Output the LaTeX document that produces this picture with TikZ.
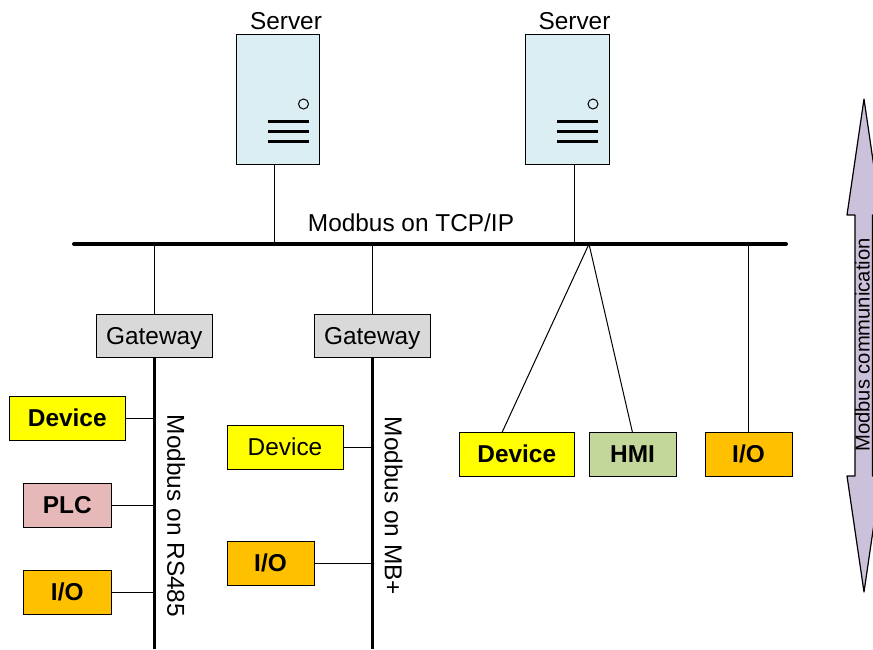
\documentclass[tikz,border=0pt]{standalone}
\usepackage{fontspec}
\setmainfont{Liberation Sans}
\definecolor{srv}{HTML}{DAEEF3}
\definecolor{gw}{HTML}{D9D9D9}
\definecolor{dev}{HTML}{FFFF00}
\definecolor{plc}{HTML}{E6B8B7}
\definecolor{io}{HTML}{FFC000}
\definecolor{hmi}{HTML}{C4D79B}
\definecolor{arr}{HTML}{CCC1DA}
\tikzset{
  x=1pt,y=-1pt,
  box/.style={draw=black,line width=1pt,inner sep=0pt,outer sep=0pt,anchor=north west,font=\fontsize{24.4}{24}\selectfont},
  boldbox/.style={box,font=\fontsize{24.4}{24}\selectfont\bfseries},
  label/.style={inner sep=0pt,font=\fontsize{24.4}{24}\selectfont},
  wire/.style={line width=1pt},
  busline/.style={line width=4pt,line cap=round},
  trunk/.style={line width=3pt},
  bar/.style={line width=2.8pt}
}
\newcommand{\srvbox}[3]{%
  \node[box,fill=srv,minimum width=83.5pt,minimum height=130pt] (#1) at (#2,#3) {};
  \draw[line width=1pt] (#2+67.5,#3+70) circle (5);
  \draw[bar] (#2+31.5,#3+87.5) -- (#2+72.5,#3+87.5);
  \draw[bar] (#2+31.5,#3+97.5) -- (#2+72.5,#3+97.5);
  \draw[bar] (#2+31.5,#3+107.5) -- (#2+72.5,#3+107.5);
}
\begin{document}
\begin{tikzpicture}
\useasboundingbox (0,0) rectangle (873,649);
% double arrow
\begin{scope}
\clip (0,0) rectangle (873,649);
\draw[line width=1.2pt,fill=arr,line join=round] (864,99) -- (881,215) -- (872.5,215) -- (872.5,476) -- (881,476) -- (864,592) -- (847,476) -- (855,476) -- (855,215) -- (847,215) -- cycle;
\end{scope}
\node[inner sep=0pt,rotate=90,font=\fontsize{20.2}{20}\selectfont] (arrlabel) at (862.5,345) {Modbus communication};
% servers
\srvbox{s1}{236}{34}
\srvbox{s2}{525.5}{34}
\node[label] (s1t) at (286,21) {Server};
\node[label] (s2t) at (574.5,21) {Server};
% bus
\coordinate (busl) at (74,244);
\coordinate (busr) at (786,244);
\coordinate (b1) at (274,244);
\coordinate (b2) at (574.5,244);
\coordinate (b3) at (154.5,244);
\coordinate (b4) at (372.5,244);
\coordinate (b5) at (589,244);
\coordinate (b6) at (748,244);
\node[label] (bust) at (411,222.5) {Modbus on TCP/IP};
% gateways
\node[box,fill=gw,minimum width=116.5pt,minimum height=43pt,text depth=0pt] (g1) at (96,314) {Gateway};
\node[box,fill=gw,minimum width=116.5pt,minimum height=43pt,text depth=0pt] (g2) at (314,314) {Gateway};
% left column
\node[boldbox,fill=dev,minimum width=116.5pt,minimum height=44pt] (d1) at (9,396) {Device};
\node[boldbox,fill=plc,minimum width=87.5pt,minimum height=44pt] (plc) at (23.5,483) {PLC};
\node[boldbox,fill=io,minimum width=87.5pt,minimum height=44pt] (io1) at (23.5,570) {I/O};
% middle column
\node[box,fill=dev,minimum width=116pt,minimum height=44pt] (d2) at (227,425) {Device};
\node[boldbox,fill=io,minimum width=87pt,minimum height=44pt] (io2) at (227,541) {I/O};
% right group
\node[boldbox,fill=dev,minimum width=115.5pt,minimum height=43.5pt] (d3) at (459,432.5) {Device};
\node[boldbox,fill=hmi,minimum width=87pt,minimum height=43.5pt] (hmi) at (589,432.5) {HMI};
\node[boldbox,fill=io,minimum width=87pt,minimum height=43.5pt] (io3) at (705,432.5) {I/O};
% trunks
\coordinate (e1) at (154.5,649);
\coordinate (e2) at (372.5,649);
\draw[trunk] (b3 |- g1.south) -- (e1);
\draw[trunk] (b4 |- g2.south) -- (e2);
\node[label,rotate=-90] (t1) at (176,516) {Modbus on RS485};
\node[label,rotate=-90] (t2) at (393.5,506) {Modbus on MB+};
% wires
\draw[wire] (b1 |- s1.south) -- (b1);
\draw[wire] (b2 |- s2.south) -- (b2);
\draw[wire] (b3) -- (b3 |- g1.north);
\draw[wire] (b4) -- (b4 |- g2.north);
\draw[wire] (b5) -- (502,432.5) coordinate (d3top);
\draw[wire] (b5) -- (632.5,432.5) coordinate (hmitop);
\draw[wire] (b6) -- (b6 |- io3.north);
\draw[wire] (d1.east) -- (d1.east -| b3);
\draw[wire] (plc.east) -- (plc.east -| b3);
\draw[wire] (io1.east) -- (io1.east -| b3);
\draw[wire] (d2.east) -- (d2.east -| b4);
\draw[wire] (io2.east) -- (io2.east -| b4);
\draw[busline] (busl) -- (busr);
\end{tikzpicture}
\end{document}
